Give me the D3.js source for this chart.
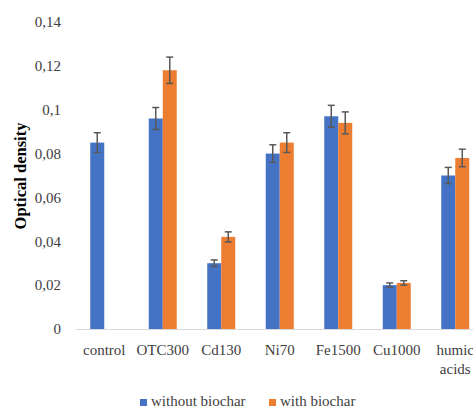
<!DOCTYPE html>
<html>
<head>
<meta charset="utf-8">
<script src="https://cdn.jsdelivr.net/npm/d3@7"></script>
<style>
  html, body { margin: 0; padding: 0; background: #fff; }
  svg { display: block; }
</style>
</head>
<body>
<svg id="chart" width="473" height="410" font-family="Liberation Serif, Times New Roman, serif"></svg>
<script>
// Treatments along the x axis
const categories = ["control", "OTC300", "Cd130", "Ni70", "Fe1500", "Cu1000", "humic acids"];
const seriesNames = ["without biochar", "with biochar"];
// Mean optical density and its error for each series (null = not measured)
const withoutBiochar = [0.085, 0.096, 0.030, 0.080, 0.097, 0.020, 0.070];
const withoutBiocharErr = [0.0045, 0.005, 0.0015, 0.004, 0.005, 0.001, 0.0037];
const withBiochar = [null, 0.118, 0.042, 0.085, 0.094, 0.021, 0.078];
const withBiocharErr = [null, 0.006, 0.0023, 0.0045, 0.005, 0.001, 0.004];
const yTicks = [0, 0.02, 0.04, 0.06, 0.08, 0.1, 0.12, 0.14];
const colors = ["#4472C4", "#ED7D31"];

const FONT = "Liberation Serif, Times New Roman, serif";
const LABEL_SIZE = 15;
const svg = d3.select("#chart");
const x = d3.scaleBand().domain(categories).range([75, 484.5]);
const y = d3.scaleLinear().domain([0, 0.14]).range([329, 22]);
const inner = d3.scaleBand().domain(seriesNames).range([-14, 14]);

const fmt = v => (v === 0 ? "0" : String(+v.toFixed(2)).replace(".", ","));

// y axis: labels only
const yAxis = svg.append("g").attr("transform", "translate(61,0)")
  .call(d3.axisLeft(y).tickValues(yTicks).tickFormat(fmt).tickSize(0).tickPadding(0));
yAxis.attr("font-family", FONT).attr("font-size", LABEL_SIZE);
yAxis.select(".domain").remove();
yAxis.selectAll("text").attr("fill", "#404040");

// x axis baseline and category labels
const xAxis = svg.append("g").attr("transform", "translate(0,329)")
  .call(d3.axisBottom(x).tickSize(0).tickFormat(""));
xAxis.select(".domain").attr("stroke", "#d9d9d9").attr("stroke-width", 1);

const labels = svg.append("g").attr("font-family", FONT).attr("font-size", LABEL_SIZE);
categories.forEach(c => {
  const words = c.split(" ");
  const cx = x(c) + x.bandwidth() / 2;
  const t = labels.append("text")
    .attr("x", cx)
    .attr("y", 355)
    .attr("text-anchor", "middle")
    .attr("fill", "#404040");
  words.forEach((w, i) => {
    t.append("tspan").attr("x", cx).attr("dy", i === 0 ? 0 : 19).text(w);
  });
});

// y axis title
svg.append("text")
  .attr("transform", "translate(26,176) rotate(-90)")
  .attr("text-anchor", "middle")
  .attr("font-family", FONT)
  .attr("font-size", 16.5)
  .attr("font-weight", "bold")
  .attr("fill", "#000")
  .text("Optical density");

// bars and error bars
const series = [
  { name: seriesNames[0], values: withoutBiochar, errs: withoutBiocharErr, color: colors[0] },
  { name: seriesNames[1], values: withBiochar, errs: withBiocharErr, color: colors[1] }
];

series.forEach(s => {
  const rows = categories.map((c, i) => ({ c, v: s.values[i], e: s.errs[i] })).filter(d => d.v != null);
  const g = svg.append("g");
  g.selectAll("rect").data(rows).join("rect")
    .attr("x", d => x(d.c) + x.bandwidth() / 2 + inner(s.name))
    .attr("width", inner.bandwidth())
    .attr("y", d => y(d.v))
    .attr("height", d => y(0) - y(d.v))
    .attr("fill", s.color);

  const eb = g.selectAll("g.err").data(rows).join("g").attr("class", "err")
    .attr("stroke", "#595959").attr("stroke-width", 1.5);
  const cx = d => x(d.c) + x.bandwidth() / 2 + inner(s.name) + inner.bandwidth() / 2;
  eb.append("line").attr("x1", cx).attr("x2", cx)
    .attr("y1", d => y(d.v + d.e)).attr("y2", d => y(d.v - d.e));
  eb.append("line").attr("x1", d => cx(d) - 3.5).attr("x2", d => cx(d) + 3.5)
    .attr("y1", d => y(d.v + d.e)).attr("y2", d => y(d.v + d.e));
  eb.append("line").attr("x1", d => cx(d) - 3.5).attr("x2", d => cx(d) + 3.5)
    .attr("y1", d => y(d.v - d.e)).attr("y2", d => y(d.v - d.e));
});

// legend
const legendX = [140, 269];
series.forEach((s, i) => {
  const lg = svg.append("g").attr("transform", `translate(${legendX[i]},0)`)
    .attr("font-family", FONT).attr("font-size", LABEL_SIZE);
  lg.append("rect").attr("x", 0).attr("y", 399).attr("width", 7).attr("height", 7).attr("fill", s.color);
  lg.append("text").attr("x", 11).attr("y", 406)
    .attr("fill", "#404040").text(s.name);
});
</script>
</body>
</html>
